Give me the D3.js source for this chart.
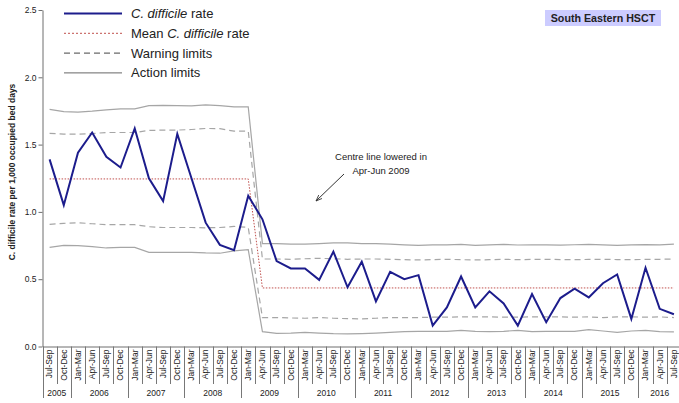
<!DOCTYPE html>
<html lang="en">
<head>
<meta charset="UTF-8">
<title>C. difficile rate - South Eastern HSCT</title>
<script src="https://d3js.org/d3.v7.min.js"></script>
<style>
  body { margin: 0; background: #fff; }
  text { font-family: "Liberation Sans", Arial, sans-serif; fill: #222; }
  .tick text { font-size: 8.5px; }
  .axis path, .axis line { stroke: #6e6e6e; }
</style>
</head>
<body>
<svg width="679" height="403"></svg>
<script>
  // year groups and their quarters
  const years = ["2005","2006","2007","2008","2009","2010","2011","2012","2013","2014","2015","2016"];
  const yearQuarters = [
    ["Jul-Sep","Oct-Dec"],
    ["Jan-Mar","Apr-Jun","Jul-Sep","Oct-Dec"],
    ["Jan-Mar","Apr-Jun","Jul-Sep","Oct-Dec"],
    ["Jan-Mar","Apr-Jun","Jul-Sep","Oct-Dec"],
    ["Jan-Mar","Apr-Jun","Jul-Sep","Oct-Dec"],
    ["Jan-Mar","Apr-Jun","Jul-Sep","Oct-Dec"],
    ["Jan-Mar","Apr-Jun","Jul-Sep","Oct-Dec"],
    ["Jan-Mar","Apr-Jun","Jul-Sep","Oct-Dec"],
    ["Jan-Mar","Apr-Jun","Jul-Sep","Oct-Dec"],
    ["Jan-Mar","Apr-Jun","Jul-Sep","Oct-Dec"],
    ["Jan-Mar","Apr-Jun","Jul-Sep","Oct-Dec"],
    ["Jan-Mar","Apr-Jun","Jul-Sep"]
  ];
  const quarters = yearQuarters.flat();

  // C. difficile rate per 1,000 occupied bed days
  const rate = [1.39, 1.05, 1.44, 1.59, 1.41, 1.33, 1.62, 1.25, 1.08, 1.58, 1.25, 0.92, 0.755, 0.715, 1.12,
                0.945, 0.635, 0.58, 0.58, 0.495, 0.705, 0.44, 0.63, 0.335, 0.555, 0.50, 0.53, 0.155, 0.29, 0.52,
                0.29, 0.41, 0.32, 0.155, 0.39, 0.18, 0.36, 0.43, 0.365, 0.47, 0.535, 0.205, 0.585, 0.28, 0.24];
  const mean = [1.245, 1.245, 1.245, 1.245, 1.245, 1.245, 1.245, 1.245, 1.245, 1.245, 1.245, 1.245, 1.245, 1.245, 1.245,
                0.435, 0.435, 0.435, 0.435, 0.435, 0.435, 0.435, 0.435, 0.435, 0.435, 0.435, 0.435, 0.435, 0.435, 0.435,
                0.435, 0.435, 0.435, 0.435, 0.435, 0.435, 0.435, 0.435, 0.435, 0.435, 0.435, 0.435, 0.435, 0.435, 0.435];
  const warnUpper = [1.584, 1.578, 1.577, 1.582, 1.59, 1.59, 1.59, 1.605, 1.608, 1.608, 1.612, 1.62, 1.618, 1.60, 1.60,
                     0.65, 0.65, 0.648, 0.652, 0.655, 0.652, 0.648, 0.65, 0.65, 0.648, 0.645, 0.643, 0.645, 0.648, 0.645,
                     0.643, 0.645, 0.648, 0.645, 0.647, 0.648, 0.646, 0.645, 0.647, 0.648, 0.646, 0.645, 0.647, 0.648, 0.65];
  const warnLower = [0.908, 0.915, 0.92, 0.912, 0.905, 0.905, 0.905, 0.89, 0.884, 0.884, 0.884, 0.882, 0.884, 0.892, 0.885,
                     0.215, 0.215, 0.212, 0.21, 0.215, 0.21, 0.207, 0.205, 0.21, 0.215, 0.215, 0.215, 0.218, 0.218, 0.22,
                     0.22, 0.22, 0.218, 0.218, 0.22, 0.22, 0.22, 0.218, 0.22, 0.215, 0.22, 0.22, 0.218, 0.22, 0.215];
  const actUpper = [1.762, 1.745, 1.742, 1.748, 1.758, 1.765, 1.765, 1.79, 1.792, 1.79, 1.788, 1.795, 1.79, 1.78, 1.78,
                    0.765, 0.765, 0.76, 0.76, 0.765, 0.77, 0.77, 0.765, 0.765, 0.76, 0.755, 0.752, 0.755, 0.755, 0.758,
                    0.752, 0.755, 0.758, 0.754, 0.756, 0.755, 0.753, 0.756, 0.758, 0.755, 0.752, 0.755, 0.757, 0.755, 0.76];
  const actLower = [0.737, 0.752, 0.75, 0.742, 0.732, 0.736, 0.736, 0.70, 0.70, 0.70, 0.70, 0.695, 0.693, 0.71, 0.72,
                    0.11, 0.098, 0.10, 0.105, 0.10, 0.095, 0.094, 0.096, 0.10, 0.105, 0.11, 0.113, 0.112, 0.113, 0.12,
                    0.113, 0.11, 0.113, 0.12, 0.11, 0.113, 0.113, 0.113, 0.125, 0.115, 0.105, 0.115, 0.12, 0.11, 0.108];
  const yTicks = [0, 0.5, 1.0, 1.5, 2.0, 2.5];

  const svg = d3.select("svg");

  const x = d3.scaleBand()
      .domain(d3.range(quarters.length))
      .range([42.5, 681])
      .paddingInner(0).paddingOuter(0);
  const y = d3.scaleLinear().domain([0, 2.5]).range([346.5, 10]);
  const cx = i => x(i) + x.bandwidth() / 2;

  // y axis
  svg.append("g")
      .attr("class", "axis")
      .attr("transform", "translate(42.5,0)")
      .call(d3.axisLeft(y).tickValues(yTicks).tickFormat(d3.format(".1f")).tickSize(4).tickSizeOuter(0))
      .selectAll(".tick text").attr("x", -6);

  // x axis (quarter labels rotated)
  const xAxis = svg.append("g")
      .attr("class", "axis")
      .attr("transform", "translate(0,346.5)")
      .call(d3.axisBottom(x).tickFormat(i => quarters[i]).tickSize(0).tickSizeOuter(0));
  xAxis.selectAll(".tick text")
      .attr("transform", "rotate(-90)")
      .attr("text-anchor", "end")
      .attr("x", -3)
      .attr("y", 0)
      .attr("dy", "0.33em");

  // separators between quarters and between years
  const yearStart = [];
  let k = 0;
  yearQuarters.forEach(q => { yearStart.push(k); k += q.length; });
  const sep = svg.append("g").attr("stroke", "#777").attr("stroke-width", 1);
  d3.range(quarters.length).forEach(i => {
    const isYear = yearStart.includes(i);
    sep.append("line")
        .attr("x1", Math.round(x(i)) + 0.5).attr("x2", Math.round(x(i)) + 0.5)
        .attr("y1", 346.5).attr("y2", isYear ? 398 : 384);
  });

  // year labels
  svg.append("g").selectAll("text")
      .data(years)
      .join("text")
      .attr("x", (d, i) => x(yearStart[i]) + yearQuarters[i].length * x.bandwidth() / 2)
      .attr("y", 396)
      .attr("text-anchor", "middle")
      .attr("font-size", "8.5px")
      .text(d => d);

  // series lines
  const line = d3.line().x((d, i) => cx(i)).y(d => y(d));
  const series = [
    { data: actUpper, stroke: "#a6a6a6", width: 1.2, dash: null },
    { data: actLower, stroke: "#a6a6a6", width: 1.2, dash: null },
    { data: warnUpper, stroke: "#a6a6a6", width: 1.2, dash: "6,4" },
    { data: warnLower, stroke: "#a6a6a6", width: 1.2, dash: "6,4" },
    { data: mean, stroke: "#c0504d", width: 1, dash: "1.5,1.5" },
    { data: rate, stroke: "#1c1c8c", width: 2, dash: null }
  ];
  series.forEach(s => {
    svg.append("path")
        .datum(s.data)
        .attr("fill", "none")
        .attr("stroke", s.stroke)
        .attr("stroke-width", s.width)
        .attr("stroke-dasharray", s.dash)
        .attr("stroke-linejoin", "miter")
        .attr("d", line);
  });

  // y axis title
  svg.append("text")
      .attr("transform", "translate(15,172) rotate(-90)")
      .attr("text-anchor", "middle")
      .attr("font-size", "8.5px")
      .attr("font-weight", "bold")
      .text("C. difficile rate per 1,000 occupied bed days");

  // legend
  const legend = [
    { label: ["C. difficile", " rate"], stroke: "#1c1c8c", width: 2, dash: null },
    { label: ["Mean ", "C. difficile", " rate"], stroke: "#c0504d", width: 1, dash: "2,2" },
    { label: ["Warning limits"], stroke: "#444", width: 1, dash: "6,4" },
    { label: ["Action limits"], stroke: "#666", width: 1, dash: null }
  ];
  const lg = svg.append("g");
  legend.forEach((d, i) => {
    const ly = 13.5 + i * 19.8;
    lg.append("line")
        .attr("x1", 64).attr("x2", 122).attr("y1", ly).attr("y2", ly)
        .attr("stroke", d.stroke).attr("stroke-width", d.width)
        .attr("stroke-dasharray", d.dash);
    const t = lg.append("text").attr("x", 131).attr("y", ly + 4.5).attr("font-size", "13px");
    d.label.forEach(part => {
      t.append("tspan")
          .attr("font-style", part === "C. difficile" ? "italic" : "normal")
          .text(part);
    });
  });

  // trust label
  const title = svg.append("g");
  title.append("rect")
      .attr("x", 545).attr("y", 10).attr("width", 116).attr("height", 16)
      .attr("fill", "#ccccff");
  title.append("text")
      .attr("x", 603).attr("y", 22)
      .attr("text-anchor", "middle")
      .attr("font-size", "10.7px")
      .attr("font-weight", "bold")
      .text("South Eastern HSCT");

  // annotation
  svg.append("defs").append("marker")
      .attr("id", "arrow")
      .attr("viewBox", "0 0 10 10")
      .attr("refX", 9).attr("refY", 5)
      .attr("markerWidth", 7).attr("markerHeight", 7)
      .attr("orient", "auto")
      .append("path")
      .attr("d", "M0,1.5 L9,5 L0,8.5")
      .attr("fill", "none")
      .attr("stroke", "#333")
      .attr("stroke-width", 1.2);
  svg.append("line")
      .attr("x1", 344).attr("y1", 174).attr("x2", 316).attr("y2", 201)
      .attr("stroke", "#333").attr("stroke-width", 1)
      .attr("marker-end", "url(#arrow)");
  const ann = svg.append("text")
      .attr("text-anchor", "middle")
      .attr("font-family", "Lato, 'Open Sans', sans-serif")
      .attr("font-size", "9.5px");
  ann.append("tspan").attr("x", 381).attr("y", 160).text("Centre line lowered in");
  ann.append("tspan").attr("x", 381).attr("y", 174).text("Apr-Jun 2009");
</script>
</body>
</html>
